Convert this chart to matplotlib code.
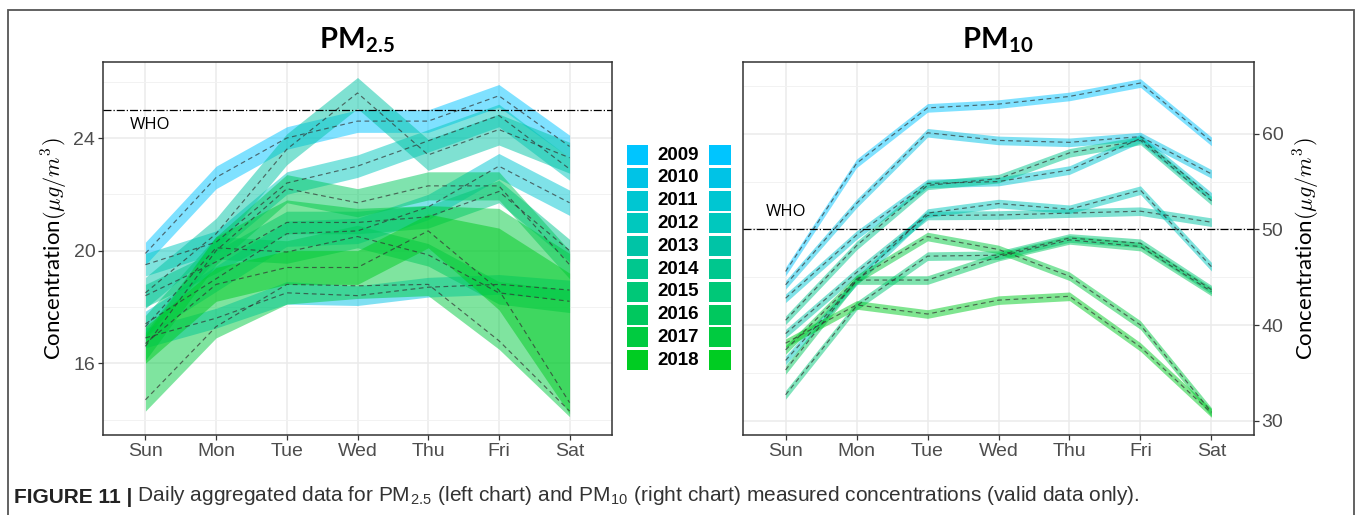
# Daily aggregated PM2.5 / PM10 by weekday, one ribbon per year
import matplotlib
matplotlib.use('Agg')
from matplotlib import pyplot as plt
from matplotlib import rcParams
from matplotlib.patches import Rectangle
import numpy as np

rcParams['font.family'] = 'sans-serif'
rcParams['font.sans-serif'] = ['Liberation Sans', 'DejaVu Sans']
rcParams['mathtext.fontset'] = 'cm'

# Data
days = ['Sun', 'Mon', 'Tue', 'Wed', 'Thu', 'Fri', 'Sat']
years = [2009, 2010, 2011, 2012, 2013, 2014, 2015, 2016, 2017, 2018]
colours = ['#00C5FF', '#00C3E6', '#00C6D2', '#00C8BE', '#00C4A6',
           '#00C78E', '#00C878', '#00C85E', '#00CB40', '#00CC22']

pm25_mean = [
    [19.9, 22.6, 24.0, 24.6, 24.6, 25.5, 23.7],
    [16.9, 17.6, 18.5, 18.4, 18.7, 18.8, 18.6],
    [17.4, 19.0, 20.6, 20.7, 21.55, 23.0, 21.7],
    [19.5, 20.3, 22.4, 23.0, 23.9, 24.8, 22.9],
    [18.5, 20.6, 23.6, 25.6, 23.4, 24.3, 23.3],
    [18.4, 19.6, 21.0, 21.0, 21.2, 22.1, 20.0],
    [17.3, 20.1, 19.95, 20.5, 19.85, 18.5, 18.2],
    [16.6, 20.0, 22.2, 21.7, 22.3, 22.3, 19.5],
    [14.7, 17.3, 18.8, 18.75, 18.8, 16.8, 14.3],
    [16.7, 18.8, 19.4, 19.4, 20.7, 18.6, 14.6],
]
pm25_lo = [
    [19.5, 22.2, 23.6, 24.2, 24.2, 25.1, 23.3],
    [16.55, 17.25, 18.1, 18.05, 18.35, 18.45, 18.25],
    [16.95, 18.55, 20.15, 20.25, 21.1, 22.55, 21.25],
    [19.1, 19.9, 22.0, 22.6, 23.5, 24.4, 22.5],
    [17.95, 20.05, 23.05, 25.05, 22.85, 23.75, 22.75],
    [18.0, 19.2, 20.6, 20.6, 20.8, 21.7, 19.6],
    [16.9, 19.7, 19.55, 20.1, 19.45, 18.1, 17.8],
    [16.1, 19.5, 21.7, 21.2, 21.8, 21.8, 19.0],
    [14.3, 16.9, 18.1, 18.3, 18.4, 16.5, 14.1],
    [16.0, 18.2, 18.8, 18.8, 20.1, 17.9, 14.2],
]
pm25_hi = [
    [20.3, 23.0, 24.4, 25.0, 25.0, 25.9, 24.1],
    [17.25, 17.95, 18.9, 18.75, 19.05, 19.15, 18.95],
    [17.85, 19.45, 21.05, 21.15, 22.0, 23.45, 22.15],
    [19.9, 20.7, 22.8, 23.4, 24.3, 25.2, 23.3],
    [19.05, 21.15, 24.15, 26.15, 23.95, 24.85, 23.85],
    [18.8, 20.0, 21.4, 21.4, 21.6, 22.5, 20.4],
    [17.7, 20.5, 20.35, 20.9, 20.25, 18.9, 18.6],
    [17.1, 20.5, 22.7, 22.2, 22.8, 22.8, 20.0],
    [17.0, 20.5, 21.8, 21.5, 21.6, 21.5, 19.9],
    [17.3, 19.4, 20.0, 20.0, 21.3, 20.8, 19.2],
]

pm10_mean = [
    [45.6, 56.9, 62.7, 63.1, 63.9, 65.3, 59.2],
    [44.2, 52.7, 60.1, 59.3, 59.1, 59.7, 55.8],
    [42.8, 49.4, 54.8, 55.0, 56.2, 59.5, 53.4],
    [36.3, 44.6, 51.7, 52.7, 52.1, 54.1, 46.1],
    [39.1, 45.5, 51.45, 51.5, 51.7, 51.9, 50.75],
    [40.5, 48.3, 54.6, 55.3, 58.0, 59.3, 53.0],
    [32.7, 42.0, 47.2, 47.3, 49.1, 48.55, 43.7],
    [35.3, 44.7, 44.7, 47.15, 48.9, 48.2, 43.5],
    [37.4, 44.8, 49.25, 47.9, 45.1, 40.0, 30.9],
    [38.1, 42.1, 41.15, 42.6, 43.0, 37.7, 30.8],
]
pm10_half = [0.45, 0.45, 0.45, 0.45, 0.45, 0.45, 0.45, 0.45, 0.45, 0.45]

who_pm25 = 25
who_pm10 = 50

# Figure
W, H = 1358, 515
fig = plt.figure(figsize=(W / 100, H / 100), dpi=100)

# outer frame (bottom runs off the page)
fig.add_artist(Rectangle((8 / W, -0.1), (1354 - 8) / W, 1.1 - 10 / H,
                         transform=fig.transFigure, fill=False,
                         edgecolor='#555555', lw=1.3, clip_on=False))

a = fig.add_axes([103 / W, 80 / H, 509 / W, 373 / H])
b = fig.add_axes([743 / W, 80 / H, 511 / W, 373 / H])

x = np.arange(len(days))


def style_axis(ax, ylim, major, minor):
    ax.set_xlim(-0.6, 6.6)
    ax.set_ylim(*ylim)
    ax.set_xticks(x)
    ax.set_xticklabels(days)
    ax.set_yticks(major)
    ax.set_yticks(minor, minor=True)
    ax.grid(True, which='major', color='#EBEBEB', lw=1.1, zorder=0)
    ax.grid(True, which='minor', axis='y', color='#F2F2F2', lw=0.7, zorder=0)
    ax.set_axisbelow(True)
    for s in ax.spines.values():
        s.set_color('#333333')
        s.set_linewidth(1.1)
    ax.tick_params(which='major', direction='out', length=3.5, width=0.9,
                   color='#333333', labelcolor='#4D4D4D', labelsize=14, pad=2)
    ax.tick_params(which='minor', length=0)


def draw_panel(ax, means, lows, highs):
    for i in range(len(years)):
        ax.fill_between(x, lows[i], highs[i], color=colours[i], alpha=0.5,
                        lw=0, zorder=2)
    for i in range(len(years)):
        ax.plot(x, means[i], color='#333333', lw=0.85, ls=(0, (4, 3)),
                alpha=0.7, zorder=3)


# PM2.5 panel
draw_panel(a, pm25_mean, pm25_lo, pm25_hi)
style_axis(a, (13.45, 26.7), [16, 20, 24], [14, 18, 22, 26])
a.axhline(who_pm25, color='black', lw=0.9, ls='-.', zorder=4)
a.text(0.07, 24.45, 'WHO', fontsize=12, family='Open Sans', ha='center', va='center')
a.set_ylabel(r'Concentration$(\mu g/m^3)$', fontsize=16, family='Lato')
a.yaxis.set_label_coords(-0.064, 0.5)
a.set_title(r'PM$_{\mathregular{2.5}}$', fontsize=21, fontweight='bold',
            family='Lato', pad=10)

# PM10 panel
pm10_lo = [[m - pm10_half[i] for m in pm10_mean[i]] for i in range(len(years))]
pm10_hi = [[m + pm10_half[i] for m in pm10_mean[i]] for i in range(len(years))]
draw_panel(b, pm10_mean, pm10_lo, pm10_hi)
style_axis(b, (28.5, 67.5), [30, 40, 50, 60], [35, 45, 55, 65])
b.axhline(who_pm10, color='black', lw=0.9, ls='-.', zorder=4)
b.text(0.0, 51.8, 'WHO', fontsize=12, family='Open Sans', ha='center', va='center')
b.yaxis.tick_right()
b.yaxis.set_label_position('right')
b.set_ylabel(r'Concentration$(\mu g/m^3)$', fontsize=16, family='Lato', rotation=90)
b.yaxis.set_label_coords(1.074, 0.5)
b.set_title(r'PM$_{\mathregular{10}}$', fontsize=21, fontweight='bold',
            family='Lato', pad=10)

# legend in the gap between panels (pixel units)
lg = fig.add_axes([615 / W, 140 / H, 130 / W, 235 / H])
lg.set_xlim(615, 745)
lg.set_ylim(375, 140)
lg.axis('off')
for i, yr in enumerate(years):
    yc = 155 + i * 22.8
    lg.add_patch(Rectangle((627, yc - 10), 21, 20, color=colours[i], lw=0))
    lg.add_patch(Rectangle((709, yc - 10), 22, 20, color=colours[i], lw=0))
    lg.text(678, yc, str(yr), fontsize=13.5, fontweight='bold',
            ha='center', va='center', color='black')

# caption
t1 = fig.text(14 / W, 1 - 503 / H, 'FIGURE 11 |', fontsize=15, fontweight='bold',
              color='#222222', va='baseline')
a.annotate(r' Daily aggregated data for PM$_{\mathregular{2.5}}$ (left chart) and '
           r'PM$_{\mathregular{10}}$ (right chart) measured concentrations (valid data only).',
           xy=(1, 0), xycoords=t1, va='bottom', ha='left', fontsize=15,
           color='#333333', annotation_clip=False)

fig.savefig('out.png', dpi=100)
